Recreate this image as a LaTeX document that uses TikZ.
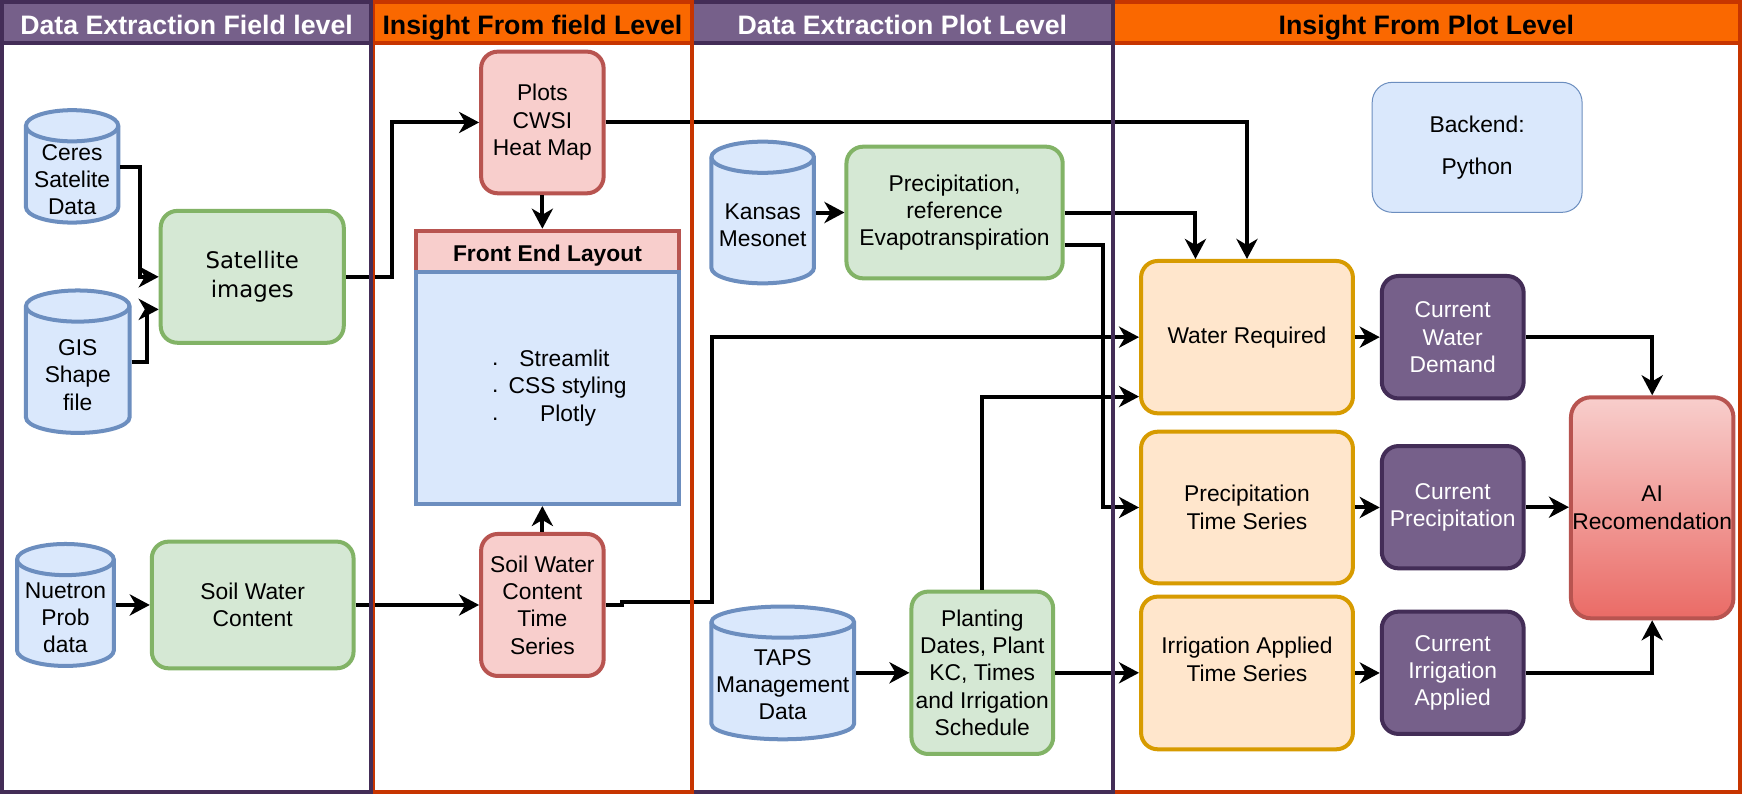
\documentclass[tikz,border=0pt]{standalone}
\usepackage{fontspec}
\setmainfont{Liberation Sans}
\newfontfamily\dejavu{DejaVu Sans}
\usetikzlibrary{arrows.meta,calc}
\definecolor{purfill}{HTML}{76608A}
\definecolor{purline}{HTML}{432D57}
\definecolor{orfill}{HTML}{FA6800}
\definecolor{orline}{HTML}{C73500}
\definecolor{grfill}{HTML}{D5E8D4}
\definecolor{grline}{HTML}{82B366}
\definecolor{blfill}{HTML}{DAE8FC}
\definecolor{blline}{HTML}{6C8EBF}
\definecolor{rdfill}{HTML}{F8CECC}
\definecolor{rdline}{HTML}{B85450}
\definecolor{rdbot}{HTML}{EA6B66}
\definecolor{ylfill}{HTML}{FFE6CC}
\definecolor{ylline}{HTML}{D79B00}

\newcommand\dbcyl[4]{%
  \pgfmathsetmacro\cyxc{(#1+#3)/2}%
  \pgfmathsetmacro\cyrx{(#3-#1)/2}%
  \pgfmathsetmacro\cyka{0.5523*\cyrx}%
  \pgfmathsetmacro\cyta{#2+14}%
  \pgfmathsetmacro\cyba{#4-14}%
  \pgfmathsetmacro\cytb{#2+28}%
  \path[cylsty] (#1,\cyta) -- (#1,\cyba) .. controls (#1,\cyba+7.73) and (\cyxc-\cyka,#4) .. (\cyxc,#4) .. controls (\cyxc+\cyka,#4) and (#3,\cyba+7.73) .. (#3,\cyba) -- (#3,\cyta) .. controls (#3,\cyta-7.73) and (\cyxc+\cyka,#2) .. (\cyxc,#2) .. controls (\cyxc-\cyka,#2) and (#1,\cyta-7.73) .. (#1,\cyta) -- cycle;
  \path[cylsty, fill=none] (#1,\cyta) .. controls (#1,\cyta+7.73) and (\cyxc-\cyka,\cytb) .. (\cyxc,\cytb) .. controls (\cyxc+\cyka,\cytb) and (#3,\cyta+7.73) .. (#3,\cyta);
}

\tikzset{
  txt/.style={font=\fontsize{20.5}{24.6}\selectfont, align=center, inner sep=0pt},
  box/.style={txt, rectangle, rounded corners=15, line width=3.6, outer sep=1.8},
  greenbox/.style={box, fill=grfill, draw=grline},
  redbox/.style={box, fill=rdfill, draw=rdline},
  yelbox/.style={box, fill=ylfill, draw=ylline},
  purbox/.style={box, fill=purfill, draw=purline, text=white},
  cylsty/.style={line width=3.6, draw=blline, fill=blfill},
  cyltext/.style={txt, outer sep=1.8, minimum height=60},
  arr/.style={line width=3.6, black, -{Stealth[length=18pt,width=19pt,inset=5.5pt]}},
  hdr/.style={font=\bfseries\fontsize{24}{28}\selectfont, inner sep=0pt, anchor=base},
}

\begin{document}
\begin{tikzpicture}[x=1pt,y=-1pt]
\useasboundingbox (0,0) rectangle (1568,714);
\fill[white] (0,0) rectangle (1568,714);

% header fills
\fill[purfill] (1.8,2.2) rectangle (333.5,38.2);
\fill[orfill] (335,2.2) rectangle (621.8,38.2);
\fill[purfill] (621.8,2.2) rectangle (999.9,38.2);
\fill[orfill] (999.9,2.2) rectangle (1563.5,38.2);

% cylinders
\dbcyl{23.3}{99}{106.3}{200}
\node[cyltext, minimum width=83] (ceres) at (64.8,161.5) {Ceres\\Satelite\\Data};
\dbcyl{23.3}{261}{116.4}{389}
\node[cyltext, minimum width=93.1] (gis) at (69.85,337) {GIS\\Shape\\file};
\dbcyl{15.3}{488.8}{102.3}{598.4}
\node[cyltext, minimum width=87] (nuet) at (58.8,555) {Nuetron\\Prob\\data};
\dbcyl{639.2}{127.3}{731.4}{254.6}
\node[cyltext, minimum width=92.2] (kansas) at (685.3,202.6) {Kansas\\Mesonet};
\dbcyl{639.2}{545}{767.5}{664.3}
\node[cyltext, minimum width=128.3] (taps) at (703.35,615.3) {TAPS\\Management\\Data};

% boxes
\node[greenbox, font=\dejavu\fontsize{20.5}{25.5}\selectfont, minimum width=164.5, minimum height=118.5] (sat) at (226.65,248.75) {Satellite\\images};
\node[greenbox, minimum width=181.3, minimum height=113.8] (swc) at (227.05,543.6) {Soil Water\\Content};
\node[redbox, minimum width=110.1, minimum height=127.3] (plots) at (487.35,110.05) {Plots\\CWSI\\Heat Map};
\node[redbox, minimum width=110.1, minimum height=127.6] (swcts) at (487.35,543.6) {Soil Water\\Content\\Time\\Series};
\node[rectangle, line width=3.6, outer sep=1.8, fill=rdfill, draw=rdline, minimum width=235.8, minimum height=36.7] (feh) at (491.9,225.65) {};
\node[rectangle, line width=3.6, outer sep=1.8, fill=blfill, draw=blline, minimum width=235.8, minimum height=208.9] (fe) at (491.9,348.45) {};
\node[font=\bfseries\fontsize{20.5}{24.6}\selectfont, inner sep=0pt, anchor=base] (fet) at (491.9,235) {Front End Layout};
\node[txt, anchor=base west] (b1) at (441.9,329.5) {\raisebox{1pt}{.}\hspace{19pt}Streamlit};
\node[txt, anchor=base west] (b2) at (441.9,354) {\raisebox{1pt}{.}\hspace{9.2pt}CSS styling};
\node[txt, anchor=base west] (b3) at (441.9,378.9) {\raisebox{1pt}{.}\hspace{37.6pt}Plotly};

\node[greenbox, minimum width=194.3, minimum height=118.3] (pet) at (857.75,190.95) {Precipitation,\\reference\\Evapotranspiration};
\node[greenbox, minimum width=127.3, minimum height=145.9] (plant) at (882.65,604.55) {Planting\\Dates, Plant\\KC, Times\\and Irrigation\\Schedule};

\node[yelbox, minimum width=190.4, minimum height=136.9] (wreq) at (1120.5,302.95) {Water Required};
\node[yelbox, minimum width=190.4, minimum height=136.2] (pts) at (1120.5,456) {Precipitation\\Time Series};
\node[yelbox, minimum width=190.4, minimum height=137.2] (irr) at (1120.5,604.7) {Irrigation Applied\\Time Series\\~};

\node[purbox, minimum width=127.5, minimum height=110] (cwd) at (1305.35,303) {Current\\Water\\Demand};
\node[purbox, minimum width=127.5, minimum height=109.9] (cp) at (1305.35,455.75) {Current\\Precipitation};
\node[purbox, minimum width=127.5, minimum height=109.9] (ci) at (1305.35,604.55) {Current\\Irrigation\\Applied};

\node[box, rounded corners=18, draw=rdline, top color=rdfill, bottom color=rdbot, minimum width=146, minimum height=198.6] (ai) at (1484.6,456.3) {AI\\Recomendation};
\node[txt, rectangle, rounded corners=18, line width=0.9, fill=blfill, draw=blline, minimum width=188.6, minimum height=116.8] (be) at (1327.3,132.4) {Backend:\\[13.4pt]Python};

% connectors
\draw[arr] ($(ceres.east)+(0,-11.7)$) -- ++(17.5,0) |- (sat.west);
\draw[arr] ($(gis.east)+(0,-12)$) -- ++(14.2,0) |- ($(sat.west)+(0,29.25)$);
\draw[arr] (sat.east) -- ++(41.5,0) |- (plots.west);
\draw[arr] (plots.south) -- (plots.south |- feh.north);
\draw[arr] (plots.east) -| (wreq.north);
\draw[arr] (swc.west -| nuet.east) -- (swc.west);
\draw[arr] (swc.east) -- (swcts.west);
\draw[arr] (swcts.north) -- (swcts.north |- fe.south);
\draw[arr] (swcts.east) -- ++(14.4,0) -- ++(0,-2.5) -- ++(81.4,0) |- (wreq.west);
\draw[arr] (pet.west -| kansas.east) -- (pet.west);
\draw[arr] (pet.east) -| ($(wreq.north)+(-46.3,0)$);
\draw[arr] ($(pet.east)+(0,29.2)$) -- ++(34.3,0) |- (pts.west);
\draw[arr] (plant.north) |- ($(wreq.west)+(0,53.4)$);
\draw[arr] (plant.west -| taps.east) -- (plant.west);
\draw[arr] (plant.east) -- (plant.east -| irr.west);
\draw[arr] (wreq.east) -- (wreq.east -| cwd.west);
\draw[arr] (pts.east) -- (pts.east -| cp.west);
\draw[arr] (irr.east) -- (irr.east -| ci.west);
\draw[arr] (cwd.east) -| (ai.north);
\draw[arr] (cp.east) -- (cp.east -| ai.west);
\draw[arr] (ci.east) -| (ai.south);

% lane outlines
\begin{scope}[line width=3.6]
\draw[orline] (999.9,2.2) rectangle (1563.5,712) (999.9,38.2) -- (1563.5,38.2);
\draw[purline] (621.8,2.2) rectangle (999.9,712) (621.8,38.2) -- (999.9,38.2);
\draw[orline] (335,2.2) rectangle (621.8,712) (335,38.2) -- (621.8,38.2);
\draw[purline] (1.8,2.2) rectangle (333.5,712) (1.8,38.2) -- (333.5,38.2);
\end{scope}

% header texts
\node[hdr, text=white] (h1) at (167.65,30.9) {Data Extraction Field level};
\node[hdr, text=black] (h2) at (478.4,30.9) {Insight From field Level};
\node[hdr, text=white] (h3) at (810.85,30.9) {Data Extraction Plot Level};
\node[hdr, text=black] (h4) at (1281.7,30.9) {Insight From Plot Level};
\end{tikzpicture}
\end{document}
